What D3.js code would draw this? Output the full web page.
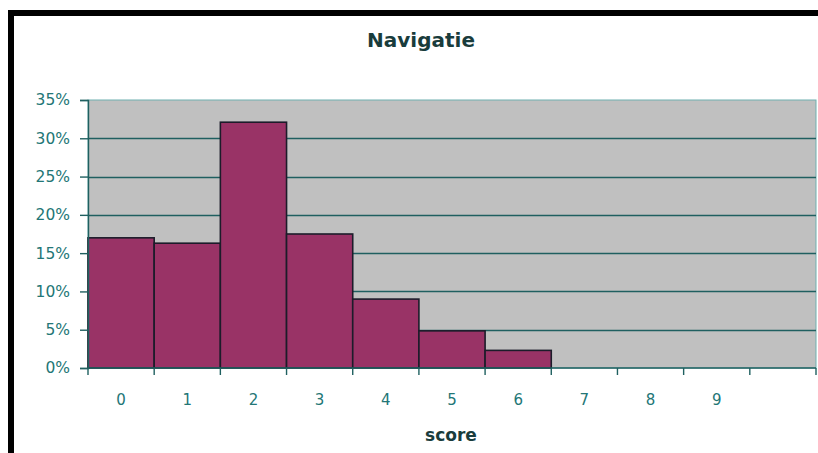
<!DOCTYPE html>
<html>
<head>
<meta charset="utf-8">
<script src="https://cdn.jsdelivr.net/npm/d3@7"></script>
<style>
  html, body { margin: 0; padding: 0; background: #fff; }
  svg { display: block; }
</style>
</head>
<body>
<svg id="chart" width="818" height="453"></svg>
<script>
// ---- data ----
const categories = ["0", "1", "2", "3", "4", "5", "6", "7", "8", "9", ""];
const values = [17.0, 16.3, 32.1, 17.5, 9.0, 4.85, 2.3, 0, 0, 0, null];
const yTicks = [0, 5, 10, 15, 20, 25, 30, 35];
const title = "Navigatie";
const xTitle = "score";

(function () {
// ---- layout ----
const svg = d3.select("#chart");
const pLeft = 88, pRight = 816, pTop = 100, pBottom = 368;

// frame
svg.append("rect").attr("x", 8).attr("y", 10).attr("width", 810).attr("height", 6).attr("fill", "#000");
svg.append("rect").attr("x", 8).attr("y", 10).attr("width", 6).attr("height", 443).attr("fill", "#000");

const x = d3.scaleBand().domain(categories).range([pLeft, pRight]).padding(0);
const y = d3.scaleLinear().domain([0, 35]).range([pBottom, pTop]);

// plot background
svg.append("rect")
  .attr("x", pLeft).attr("y", pTop)
  .attr("width", pRight - pLeft).attr("height", pBottom - pTop)
  .attr("fill", "#c0c0c0")
  .attr("stroke", "#6fb0b0").attr("stroke-width", 1);

// gridlines
svg.append("g").selectAll("line")
  .data(yTicks.filter(t => t > 0 && t < 35))
  .join("line")
  .attr("x1", pLeft).attr("x2", pRight)
  .attr("y1", d => Math.round(y(d)) + 0.5).attr("y2", d => Math.round(y(d)) + 0.5)
  .attr("stroke", "#1f5f60").attr("stroke-width", 1.6);

// bars
const data = categories.map((c, i) => ({ c, v: values[i] })).filter(d => d.v);
svg.append("g").selectAll("rect")
  .data(data)
  .join("rect")
  .attr("x", d => x(d.c))
  .attr("width", x.bandwidth())
  .attr("y", d => y(d.v))
  .attr("height", d => y(0) - y(d.v))
  .attr("fill", "#993366")
  .attr("stroke", "#1c1c2a")
  .attr("stroke-width", 1.6);

// y axis
const yAxis = d3.axisLeft(y).tickValues(yTicks).tickFormat(d => d + "%").tickSize(8).tickPadding(10);
const gy = svg.append("g").attr("transform", `translate(${pLeft},0)`).call(yAxis);
gy.select(".domain").attr("stroke", "#1f6060").attr("stroke-width", 1.4);
gy.selectAll(".tick line").attr("stroke", "#1f6060").attr("stroke-width", 1.4);
gy.selectAll(".tick text")
  .attr("font-family", "DejaVu Sans")
  .attr("font-size", 15.5)
  .attr("fill", "#237676");

// x axis: ticks at band boundaries
const xAxisLine = svg.append("g");
xAxisLine.append("line")
  .attr("x1", pLeft).attr("x2", pRight)
  .attr("y1", pBottom).attr("y2", pBottom)
  .attr("stroke", "#1f6060").attr("stroke-width", 1.6);
const bounds = categories.map(c => x(c)).concat([pRight]);
xAxisLine.selectAll("line.tk")
  .data(bounds)
  .join("line")
  .attr("class", "tk")
  .attr("x1", d => d).attr("x2", d => d)
  .attr("y1", pBottom).attr("y2", pBottom + 7)
  .attr("stroke", "#1f6060").attr("stroke-width", 1.4);
xAxisLine.selectAll("text")
  .data(categories)
  .join("text")
  .attr("x", d => x(d) + x.bandwidth() / 2)
  .attr("y", 405)
  .attr("text-anchor", "middle")
  .attr("font-family", "DejaVu Sans")
  .attr("font-size", 15)
  .attr("fill", "#237676")
  .text(d => d);

// titles
svg.append("text")
  .attr("x", 421).attr("y", 47)
  .attr("text-anchor", "middle")
  .attr("font-family", "DejaVu Sans")
  .attr("font-weight", "bold")
  .attr("font-size", 20)
  .attr("fill", "#193c3c")
  .text(title);

svg.append("text")
  .attr("x", 451).attr("y", 441)
  .attr("text-anchor", "middle")
  .attr("font-family", "DejaVu Sans")
  .attr("font-weight", "bold")
  .attr("font-size", 17)
  .attr("fill", "#193c3c")
  .text(xTitle);
})();
</script>
</body>
</html>
